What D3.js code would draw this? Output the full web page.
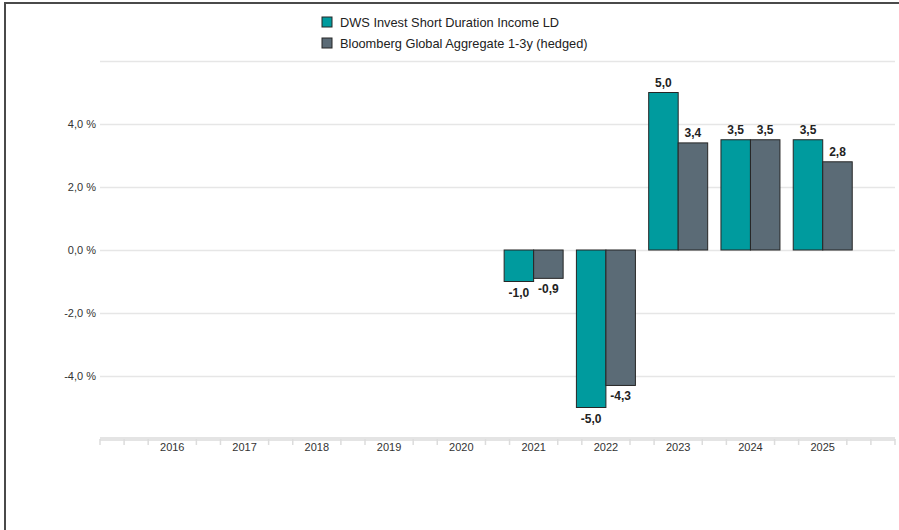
<!DOCTYPE html>
<html>
<head>
<meta charset="utf-8">
<script src="https://cdn.jsdelivr.net/npm/d3@7"></script>
<style>
  body { margin: 0; background: #fff; }
  svg { display: block; font-family: "Liberation Sans", Arial, sans-serif; }
  .grid line { stroke: #e6e6e6; stroke-width: 1.5; }
  .y-label { font-size: 11px; fill: #333; }
  .x-label { font-size: 11px; fill: #333; }
  .bar { stroke: #262626; stroke-width: 1; }
  .bar-label { font-size: 12px; fill: #222; font-weight: 600; }
  .legend-text { font-size: 12.8px; fill: #222; }
</style>
</head>
<body>
<div class="chart-container"></div>
<script>
var years = [2016, 2017, 2018, 2019, 2020, 2021, 2022, 2023, 2024, 2025];
var seriesNames = ['DWS Invest Short Duration Income LD', 'Bloomberg Global Aggregate 1-3y (hedged)'];
var fundValues = [null, null, null, null, null, -1.0, -5.0, 5.0, 3.5, 3.5];
var benchValues = [null, null, null, null, null, -0.9, -4.3, 3.4, 3.5, 2.8];
var yTickValues = [-4, -2, 0, 2, 4];
var gridValues = [-4, -2, 0, 2, 4, 6];
var colors = ['#009b9e', '#5b6b76'];

var width = 899;
var height = 530;

var locale = d3.formatLocale({ decimal: ',', thousands: '.', grouping: [3], currency: ['', ' €'], minus: '-' });
var fmt = locale.format('.1f');

var svg = d3.select('.chart-container').append('svg')
  .attr('width', width)
  .attr('height', height);

// frame (top and left border of the screenshot)
svg.append('line')
  .attr('x1', 4).attr('y1', 3).attr('x2', width).attr('y2', 3)
  .attr('stroke', '#4a4a4a').attr('stroke-width', 2);
svg.append('line')
  .attr('x1', 5).attr('y1', 3).attr('x2', 5).attr('y2', height)
  .attr('stroke', '#4a4a4a').attr('stroke-width', 2);

// scales
var x = d3.scaleLinear()
  .domain([2015, 2026])
  .range([100, 895]);

var inner = d3.scaleBand()
  .domain([0, 1])
  .range([-29.5, 29.5])
  .padding(0);

var y = d3.scaleLinear()
  .domain([-6, 6])
  .range([439, 61]);

// gridlines
svg.append('g')
  .attr('class', 'grid')
  .selectAll('line')
  .data(gridValues)
  .enter()
  .append('line')
    .attr('x1', x(2015))
    .attr('x2', x(2026))
    .attr('y1', function (d) { return Math.round(y(d)) + 0.5; })
    .attr('y2', function (d) { return Math.round(y(d)) + 0.5; });

// y labels
svg.append('g')
  .selectAll('text')
  .data(yTickValues)
  .enter()
  .append('text')
    .attr('class', 'y-label')
    .attr('x', 96)
    .attr('y', function (d) { return y(d) + 4; })
    .attr('text-anchor', 'end')
    .text(function (d) { return fmt(d) + ' %'; });

// x axis band
svg.append('line')
  .attr('x1', x(2015)).attr('x2', x(2026))
  .attr('y1', y(-6)).attr('y2', y(-6))
  .attr('stroke', '#e4e4e4').attr('stroke-width', 4);

// minor ticks every 4 months, hidden under the year labels
var minorTicks = d3.range(0, 34).map(function (i) { return 2015 + i / 3; });
svg.append('g')
  .selectAll('line')
  .data(minorTicks.filter(function (d) { return Math.abs(d - Math.round(d)) > 0.01 || d === 2015 || d === 2026; }))
  .enter()
  .append('line')
    .attr('x1', function (d) { return x(d); })
    .attr('x2', function (d) { return x(d); })
    .attr('y1', y(-6))
    .attr('y2', y(-6) + 6)
    .attr('stroke', '#dcdcdc')
    .attr('stroke-width', 1.5);

svg.append('g')
  .selectAll('text')
  .data(years)
  .enter()
  .append('text')
    .attr('class', 'x-label')
    .attr('x', function (d) { return x(d); })
    .attr('y', 451)
    .attr('text-anchor', 'middle')
    .text(function (d) { return d; });

// bars
var barData = [];
years.forEach(function (yr, i) {
  [fundValues[i], benchValues[i]].forEach(function (v, s) {
    if (v !== null) barData.push({ year: yr, series: s, value: v });
  });
});

svg.append('g')
  .selectAll('rect')
  .data(barData)
  .enter()
  .append('rect')
    .attr('class', 'bar')
    .attr('x', function (d) { return x(d.year) + inner(d.series); })
    .attr('width', inner.bandwidth())
    .attr('y', function (d) { return y(Math.max(0, d.value)); })
    .attr('height', function (d) { return Math.abs(y(d.value) - y(0)); })
    .attr('fill', function (d) { return colors[d.series]; });

svg.append('g')
  .selectAll('text')
  .data(barData)
  .enter()
  .append('text')
    .attr('class', 'bar-label')
    .attr('x', function (d) { return x(d.year) + inner(d.series) + inner.bandwidth() / 2; })
    .attr('y', function (d) { return d.value >= 0 ? y(d.value) - 6 : y(d.value) + 15; })
    .attr('text-anchor', 'middle')
    .text(function (d) { return fmt(d.value); });

// legend
var legend = svg.append('g')
  .selectAll('g')
  .data(seriesNames)
  .enter()
  .append('g')
    .attr('transform', function (d, i) { return 'translate(322,' + (17 + i * 21) + ')'; });

legend.append('rect')
  .attr('width', 10)
  .attr('height', 10)
  .attr('fill', function (d, i) { return colors[i]; })
  .attr('stroke', '#262626')
  .attr('stroke-width', 1);

legend.append('text')
  .attr('class', 'legend-text')
  .attr('x', 18)
  .attr('y', 10)
  .text(function (d) { return d; });
</script>
</body>
</html>
